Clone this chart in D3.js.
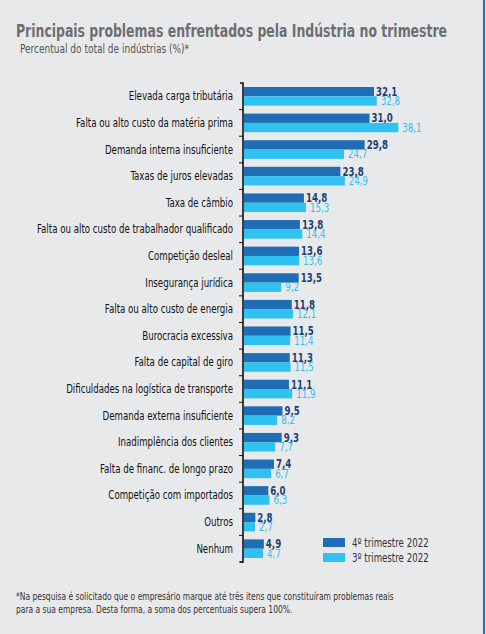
<!DOCTYPE html>
<html><head><meta charset="utf-8">
<script src="https://cdn.jsdelivr.net/npm/d3@7"></script>
<style>body{margin:0;background:#e8e9eb;}svg{display:block;font-family:"Liberation Sans Narrow","DejaVu Sans Condensed",Roboto,sans-serif;}</style>
</head><body><svg id="c" width="486" height="634"></svg>
<script>
const categories = ["Elevada carga tributária","Falta ou alto custo da matéria prima","Demanda interna insuficiente","Taxas de juros elevadas","Taxa de câmbio","Falta ou alto custo de trabalhador qualificado","Competição desleal","Insegurança jurídica","Falta ou alto custo de energia","Burocracia excessiva","Falta de capital de giro","Dificuldades na logística de transporte","Demanda externa insuficiente","Inadimplência dos clientes","Falta de financ. de longo prazo","Competição com importados","Outros","Nenhum"];
const q4 = [32.1,31.0,29.8,23.8,14.8,13.8,13.6,13.5,11.8,11.5,11.3,11.1,9.5,9.3,7.4,6.0,2.8,4.9];
const q3 = [32.8,38.1,24.7,24.9,15.3,14.4,13.6,9.2,12.1,11.4,11.5,11.9,8.2,7.7,6.7,6.3,2.7,4.7];
const seriesNames = ["4º trimestre 2022","3º trimestre 2022"];
const colors = ["#1f6db5","#2fc1ef"];

const svg = d3.select("#c");
const fmt = v => d3.format(".1f")(v).replace(".", ",");
svg.append("rect").attr("x",483).attr("y",0).attr("width",2).attr("height",634).attr("fill","#2a6db3");

const title = svg.append("text").attr("x",16).attr("y",37).attr("font-size",18.5).attr("font-weight","bold").attr("fill","#6d6e71").text("Principais problemas enfrentados pela Indústria no trimestre");
svg.append("text").attr("x",20).attr("y",53).attr("font-size",12.5).attr("fill","#555").text("Percentual do total de indústrias (%)*");

const x0 = 243;
const x = d3.scaleLinear().domain([0,40]).range([x0, x0+162]);
const y = d3.scaleBand().domain(categories).range([83,562]).paddingInner(0.3).paddingOuter(0.15);
const h = y.bandwidth()/2;

const g = svg.append("g");
const ax = d3.axisLeft(y).tickSize(4).tickFormat("");
g.append("g").attr("transform",`translate(${x0},0)`).call(ax)
  .call(s=>s.select(".domain").attr("stroke","#111").attr("stroke-width",1.6).attr("d","M-3,83H0V562H-3"))
  .selectAll(".tick line").attr("stroke","#111").attr("transform",`translate(0,${y.step()/2})`);

const rows = g.selectAll(".row").data(categories).join("g").attr("transform",c=>`translate(0,${y(c)})`);
rows.append("text").attr("x",x0-10).attr("y",h+4).attr("text-anchor","end").attr("font-size",12).attr("fill","#111").text(c=>c);
[q4,q3].forEach((vals,k)=>{
  rows.append("rect").attr("x",x0+1).attr("y",k*h).attr("height",h).attr("width",(c,i)=>x(vals[i])-x0).attr("fill",colors[k]);
  rows.append("text").attr("x",(c,i)=>x(vals[i])+ (k?5:3)).attr("y",k*h+h-0.5).attr("font-size",12).attr("font-weight",k?"normal":"bold").attr("fill",k?colors[1]:"#1d3f73").text((c,i)=>fmt(vals[i]));
});

const lg = svg.append("g").attr("transform","translate(323,538)");
seriesNames.forEach((n,k)=>{
  lg.append("rect").attr("x",0).attr("y",k*15).attr("width",22).attr("height",9).attr("fill",colors[k]);
  lg.append("text").attr("x",29).attr("y",k*15+9).attr("font-size",12).attr("fill","#333").text(n);
});

svg.append("text").attr("x",16).attr("y",600).attr("font-size",10.5).attr("fill","#333").text("*Na pesquisa é solicitado que o empresário marque até três itens que constituíram problemas reais");
svg.append("text").attr("x",16).attr("y",613).attr("font-size",10.5).attr("fill","#333").text("para a sua empresa. Desta forma, a soma dos percentuais supera 100%.");

// condense all text (no narrow font installed)
svg.selectAll("text").each(function(){
  const w = this.getComputedTextLength();
  this.setAttribute("lengthAdjust","spacingAndGlyphs");
  this.setAttribute("textLength", w*0.8);
});
title.attr("textLength",431);
</script></body></html>
